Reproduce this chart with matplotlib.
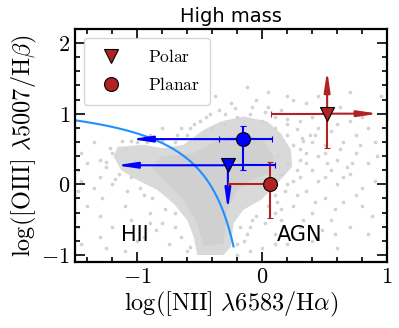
import numpy as np
import matplotlib
matplotlib.use("Agg")
import matplotlib.pyplot as plt

plt.rcParams['mathtext.fontset'] = 'cm'

# background galaxies: dense core (outer / inner outline) and loose points
core_outer_x = [-1.16, -0.95, -0.79, -0.63, -0.47, -0.33, -0.15, 0.04, 0.15, 0.23, 0.24, 0.17, 0.07,
                -0.01, -0.15, -0.23, -0.25, -0.31, -0.52, -0.55, -0.60, -0.71, -0.84, -1.00, -1.13, -1.19]
core_outer_y = [0.53, 0.56, 0.51, 0.56, 0.77, 0.89, 0.96, 0.89, 0.72, 0.49, 0.25, 0.11, -0.08,
                -0.22, -0.36, -0.55, -0.88, -1.00, -1.00, -0.74, -0.51, -0.27, -0.08, 0.06, 0.20, 0.39]
core_inner_x = [-0.81, -0.55, -0.36, -0.15, 0.01, 0.09, 0.07, -0.09, -0.20, -0.28, -0.31, -0.47,
                -0.52, -0.63, -0.79, -0.89]
core_inner_y = [0.39, 0.44, 0.63, 0.72, 0.63, 0.39, 0.16, 0.06, -0.08, -0.36, -0.84, -0.88,
                -0.55, -0.22, 0.06, 0.25]

bg_x = [-0.55, -0.45, -0.35, -0.25, -0.12, -0.05, 0.05, 0.15, 0.25, 0.35, 0.40, 0.30, 0.20, 0.45,
        0.55, 0.60, 0.70, 0.80, 0.75, 0.65, 0.50, 0.40, 0.35, 0.45, 0.60, 0.75, 0.85, 0.90, 0.55,
        0.40, 0.30, 0.45, 0.60, 0.70, 0.80, 0.90, 0.35, 0.50, 0.65, 0.80, 0.25, 0.40, 0.55, 0.70,
        0.30, 0.15, 0.10, 0.20, 0.40, 0.60, 0.85, 0.95, 0.70, 0.50,
        -0.70, -0.60, -0.50, -0.40, -0.30, -0.20, -0.10, 0.00, 0.10, 0.20, 0.25, 0.30, 0.20, 0.15,
        0.20, 0.10, 0.05, -0.05, -0.10, -0.15, 0.00,
        -0.90, -0.80, -1.00, -1.10, -1.20, -1.30, -1.40, -1.48, -1.45, -1.35, -1.25, -1.15, -1.20,
        -1.35, -1.48, -1.40, -1.30, -1.48, -1.45, -1.30, -1.20, -1.10, -1.05, -1.00, -0.90, -0.85,
        -0.75, -0.70, -0.95, -1.05, -0.60, -1.10, -1.25, -0.80, -1.45, -1.30,
        0.32, 0.52, 0.12, 0.68, 0.28, 0.58, -0.38, -0.65, -1.02, -1.28, 0.78, 0.15, 0.38,
        -1.05, -0.92, -0.80, -0.68, -0.58, -0.50, -0.42, -0.30, -0.22, -0.08, 0.02, 0.10, 0.20,
        0.28, 0.33, 0.30, 0.35, 0.28, 0.25, 0.18, 0.12, 0.10, 0.02, -0.08, -0.12, -0.18, -0.20,
        -0.10, -0.20, -0.65, -0.70, -0.78, -0.88, -0.98, -1.08, -1.18, -1.25, -1.22, -1.12,
        -0.90, -0.95, -0.58, 0.42, 0.50, 0.62, 0.72, 0.50, 0.65, 0.42, 0.58, 0.75, 0.88, 0.92,
        0.85, 0.62, 0.45, 0.20, 0.05, 0.33, 0.48, 0.25, 0.10]
bg_y = [0.85, 0.95, 1.05, 1.15, 1.38, 1.20, 1.10, 1.05, 1.20, 1.15, 0.95, 0.90, 0.85, 0.80,
        0.75, 0.85, 0.90, 0.95, 0.70, 0.60, 0.55, 0.60, 0.45, 0.40, 0.35, 0.45, 0.30, 0.60, 0.20,
        0.20, 0.10, 0.05, 0.00, 0.15, -0.05, 0.05, -0.10, -0.20, -0.25, -0.30, -0.30, -0.40, -0.50,
        -0.60, -0.60, -0.50, -0.70, -0.85, -0.80, -0.90, -0.70, 1.25, 1.30, 1.05,
        0.60, 0.70, 0.65, 0.80, 0.85, 0.95, 1.00, 0.90, 0.80, 0.70, 0.55, 0.35, 0.30, 0.15,
        0.00, -0.15, -0.30, -0.45, -0.60, -0.80, -0.90,
        0.70, 0.80, 0.60, 0.50, 0.45, 0.35, 0.30, 0.20, 0.45, 0.60, 0.25, 0.15, 0.00,
        -0.05, -0.10, -0.30, -0.45, -0.60, -0.85, -0.75, -0.60, -0.30, -0.50, -0.80, -0.40, -0.65,
        -0.85, -0.60, -0.15, 0.10, -0.95, -0.95, -0.90, -0.55, 0.05, 0.10,
        0.65, 0.30, 0.40, 0.25, -0.15, -0.70, 1.25, 0.80, 0.35, -0.20, 0.55, -0.35, 0.70,
        0.62, 0.60, 0.62, 0.70, 0.80, 0.90, 1.00, 1.00, 1.08, 1.10, 1.02, 0.95, 0.92,
        0.78, 0.62, 0.50, 0.30, 0.20, 0.05, -0.10, -0.25, -0.40, -0.55, -0.50, -0.70, -0.60, -0.85,
        -0.95, -1.00, -0.75, -0.40, -0.35, -0.20, -0.05, -0.10, 0.08, 0.32, 0.52, 0.62,
        -0.55, -0.75, -0.88, 0.70, 0.45, 0.50, 0.30, 0.10, 0.10, -0.25, -0.35, -0.15, -0.45, 0.40,
        0.80, 1.10, 1.25, 1.25, 1.30, -0.50, -0.65, -0.75, -0.85]

# Kauffmann et al. (2003) demarcation
curve_x = np.linspace(-1.5, -0.23, 200)
curve_y = 0.61 / (curve_x - 0.05) + 1.3

# measurements: x, y, errors (lower, upper); limits as arrow tips
polar_x = [0.52, -0.275]
polar_y = [1.00, 0.27]
polar_xerr = [[0.45, 0.0], [0.0, 0.375]]
polar_yerr = [[0.48, 0.0], [0.0, 0.0]]
planar_x = [0.06, -0.155]
planar_y = [0.01, 0.64]
planar_xerr = [[0.335, 0.0], [0.19, 0.235]]
planar_yerr = [[0.49, 0.31], [0.44, 0.18]]
colors = ['firebrick', 'blue']

# arrows (start x, start y, tip x, tip y, colour index)
arrow_x0 = [0.52, 0.52, -0.275, -0.275, -0.155]
arrow_y0 = [1.00, 1.00, 0.27, 0.27, 0.64]
arrow_x1 = [0.93, 0.52, -1.17, -0.275, -1.05]
arrow_y1 = [1.00, 1.61, 0.27, -0.36, 0.64]
arrow_c = [0, 0, 1, 1, 1]

xticks = [-1, 0, 1]
xticklabels = [r'$-1$', r'$0$', r'$1$']
yticks = [-1, 0, 1, 2]
yticklabels = [r'$-1$', r'$0$', r'$1$', r'$2$']

fig = plt.figure(figsize=(3.99, 3.28), dpi=100)
ax = fig.add_axes([0.188, 0.201, 0.782, 0.711])

ax.fill(core_outer_x, core_outer_y, color='#d9d9d9', lw=0, zorder=0)
ax.fill(core_inner_x, core_inner_y, color='#d0d0d0', lw=0, zorder=0)
ax.scatter(bg_x, bg_y, s=7, color='#d3d3d3', lw=0, zorder=0)

ax.plot(curve_x, curve_y, color='#1e90ff', lw=1.5, zorder=1)

for i in range(len(arrow_x0)):
    ax.annotate('', xy=(arrow_x1[i], arrow_y1[i]), xytext=(arrow_x0[i], arrow_y0[i]),
                arrowprops=dict(arrowstyle='-|>,head_length=0.6,head_width=0.09',
                                color=colors[arrow_c[i]], lw=1.5, mutation_scale=20,
                                shrinkA=0, shrinkB=0), zorder=2)

# red first so the blue bars sit on top
for i in [0, 1]:
    ax.errorbar(planar_x[i], planar_y[i],
                xerr=[[planar_xerr[i][0]], [planar_xerr[i][1]]],
                yerr=[[planar_yerr[i][0]], [planar_yerr[i][1]]],
                fmt='o', color=colors[i], mfc=colors[i], mec='k', mew=0.8, ms=10,
                elinewidth=1.5, capsize=2.5, capthick=1.5, zorder=3)
    ax.errorbar(polar_x[i], polar_y[i],
                xerr=[[polar_xerr[i][0]], [polar_xerr[i][1]]],
                yerr=[[polar_yerr[i][0]], [polar_yerr[i][1]]],
                fmt='v', color=colors[i], mfc=colors[i], mec='k', mew=0.8, ms=10,
                elinewidth=1.5, capsize=2.5, capthick=1.5, zorder=3)

ax.plot([], [], 'v', color='firebrick', mec='k', mew=0.8, ms=10, label=r'$\mathrm{Polar}$')
ax.plot([], [], 'o', color='firebrick', mec='k', mew=0.8, ms=10, label=r'$\mathrm{Planar}$')
ax.legend(loc='upper left', fontsize=12.5, handletextpad=1.1, borderpad=0.6, labelspacing=0.6)

ax.text(-1.13, -0.80, 'HII', fontsize=15)
ax.text(0.12, -0.80, 'AGN', fontsize=15)

ax.set_xlim(-1.5, 1)
ax.set_ylim(-1.1, 2.2)
ax.set_xticks(xticks)
ax.set_xticklabels(xticklabels)
ax.set_yticks(yticks)
ax.set_yticklabels(yticklabels)
ax.set_xticks(np.arange(-1.4, 1.0, 0.2), minor=True)
ax.set_yticks(np.arange(-1.0, 2.2, 0.2), minor=True)
ax.tick_params(which='both', direction='in', top=True, right=True, labelsize=16, width=1.2)
ax.tick_params(which='major', length=7)
ax.tick_params(which='minor', length=3.5)
for s in ax.spines.values():
    s.set_linewidth(1.6)

ax.set_xlabel(r'$\log([\mathrm{NII}]\ \lambda6583/\mathrm{H}\alpha)$', fontsize=17.5, labelpad=2)
ax.set_ylabel(r'$\log([\mathrm{OIII}]\ \lambda5007/\mathrm{H}\beta)$', fontsize=17.5, labelpad=2)
ax.set_title('High mass', fontsize=14, pad=5)

fig.savefig('out.png', dpi=100)
